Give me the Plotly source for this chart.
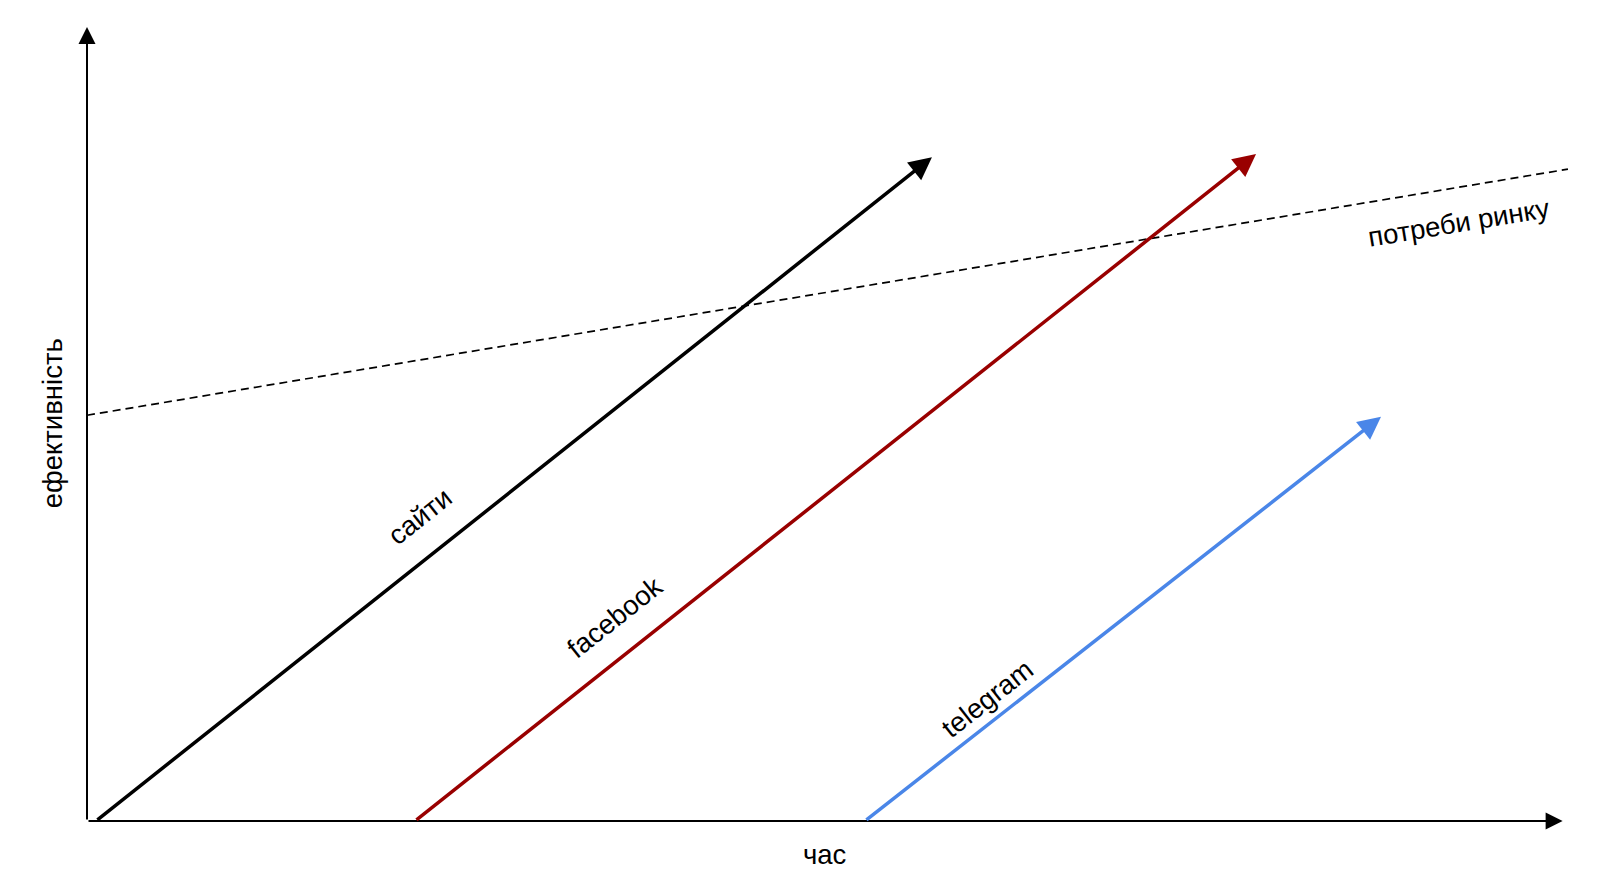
import plotly.graph_objects as go

# Schematic values (time units 0..100, effectiveness units 0..100)
axis_x_end = 99.3
axis_y_end = 100.0

series_names = ["сайти", "facebook", "telegram"]
series_colors = ["#000000", "#990000", "#4a86e8"]
series_start_x = [0.6, 22.07, 52.35]
series_start_y = [0.0, 0.0, 0.0]
series_end_x = [56.86, 78.67, 87.08]
series_end_y = [83.6, 84.0, 50.9]

label_x = [22.4, 35.5, 60.6]
label_y = [38.3, 25.6, 15.4]
label_angle = [-38.5, -38.4, -38.0]

market_x = [0.0, 99.66]
market_y = [51.1, 82.1]
market_label = "потреби ринку"
market_label_x = 92.3
market_label_y = 75.4

x_title = "час"
y_title = "ефективність"

FONT = "Liberation Sans, Arial, sans-serif"
FS = 27.5

fig = go.Figure()

# market needs dashed line
fig.add_trace(go.Scatter(x=market_x, y=market_y, mode="lines",
                         line=dict(color="#000000", width=1.7, dash="8px,5px"),
                         hoverinfo="skip", showlegend=False, cliponaxis=False))

annotations = []
# axes with arrows
annotations.append(dict(x=axis_x_end, y=0, ax=0, ay=0, xref="x", yref="y", axref="x", ayref="y",
                        showarrow=True, arrowhead=2, arrowsize=1.7, arrowwidth=2,
                        arrowcolor="#000000", text=""))
annotations.append(dict(x=0, y=axis_y_end, ax=0, ay=0, xref="x", yref="y", axref="x", ayref="y",
                        showarrow=True, arrowhead=2, arrowsize=1.7, arrowwidth=2,
                        arrowcolor="#000000", text=""))

for i, name in enumerate(series_names):
    annotations.append(dict(x=series_end_x[i], y=series_end_y[i],
                            ax=series_start_x[i], ay=series_start_y[i],
                            xref="x", yref="y", axref="x", ayref="y",
                            showarrow=True, arrowhead=2, arrowsize=1.3, arrowwidth=3.5,
                            arrowcolor=series_colors[i], text=""))
    annotations.append(dict(x=label_x[i], y=label_y[i], xref="x", yref="y",
                            text=name, showarrow=False, textangle=label_angle[i],
                            font=dict(family=FONT, size=FS, color="#000000")))

annotations.append(dict(x=market_label_x, y=market_label_y, xref="x", yref="y",
                        text=market_label, showarrow=False, textangle=-9.4,
                        font=dict(family=FONT, size=FS, color="#000000")))

annotations.append(dict(x=0.4965, y=-0.0428, xref="paper", yref="paper", yanchor="middle",
                        text=x_title, showarrow=False,
                        font=dict(family=FONT, size=FS, color="#000000")))
annotations.append(dict(x=-0.0235, y=0.501, xref="paper", yref="paper",
                        xanchor="center", yanchor="middle",
                        text=y_title, showarrow=False, textangle=-90,
                        font=dict(family=FONT, size=FS, color="#000000")))

fig.update_layout(
    width=1600, height=875,
    margin=dict(l=87, r=27, t=27, b=54),
    paper_bgcolor="white", plot_bgcolor="white",
    showlegend=False,
    annotations=annotations,
    xaxis=dict(range=[0, 100], visible=False, fixedrange=True),
    yaxis=dict(range=[0, 100], visible=False, fixedrange=True),
)

fig.write_html("out.html", config={"displayModeBar": False},
               post_script="document.body.style.margin='0';document.body.style.overflow='hidden';")
